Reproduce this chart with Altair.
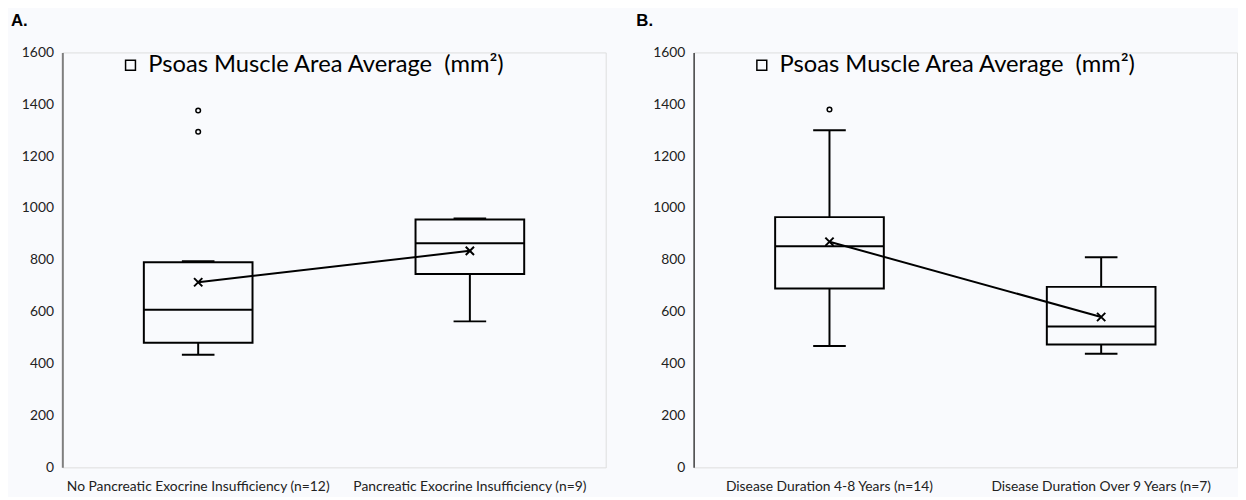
import altair as alt
import pandas as pd

SERIES = "Psoas Muscle Area Average\u00a0 (mm²)"
y_ticks = [0, 200, 400, 600, 800, 1000, 1200, 1400, 1600]

# Panel A
a_categories = ["No Pancreatic Exocrine Insufficiency (n=12)", "Pancreatic Exocrine Insufficiency (n=9)"]
a_lower = [434, 563]
a_q1 = [481, 746]
a_median = [608, 864]
a_q3 = [791, 956]
a_upper = [795, 960]
a_mean = [714, 835]
a_out_cat = ["No Pancreatic Exocrine Insufficiency (n=12)", "No Pancreatic Exocrine Insufficiency (n=12)"]
a_out_val = [1376, 1294]

# Panel B
b_categories = ["Disease Duration 4-8 Years (n=14)", "Disease Duration Over 9 Years (n=7)"]
b_lower = [468, 438]
b_q1 = [690, 474]
b_median = [853, 543]
b_q3 = [965, 696]
b_upper = [1300, 810]
b_mean = [870, 580]
b_out_cat = ["Disease Duration 4-8 Years (n=14)"]
b_out_val = [1380]


def panel(title, dx, cats, lower, q1, med, q3, upper, mean, out_cat, out_val, axis_color, axis_width):
    stats = pd.DataFrame({
        "cat": cats, "lower": lower, "q1": q1, "median": med,
        "q3": q3, "upper": upper, "mean": mean, "series": [SERIES] * len(cats),
    })
    outs = pd.DataFrame({"cat": out_cat, "value": out_val})

    x = alt.X("cat:N", sort=cats,
              scale=alt.Scale(type="band", paddingInner=0, paddingOuter=0),
              axis=alt.Axis(title=None, labelAngle=0, domain=False, ticks=False,
                            labelPadding=12, labelLimit=400, labelFontSize=14,
                            labelFont="Lato", labelColor="#222222"))
    yscale = alt.Scale(domain=[0, 1600], nice=False)
    yaxis = alt.Axis(title=None, values=y_ticks, format="d", grid=False, ticks=False,
                     domainColor=axis_color, domainWidth=axis_width,
                     labelPadding=9, labelFontSize=14, labelFont="Lato",
                     labelColor="#222222", minExtent=54, maxExtent=54)

    def Y(f):
        return alt.Y(f + ":Q", scale=yscale, axis=yaxis)

    base = alt.Chart(stats)
    whisk_lo = base.mark_rule(color="black", strokeWidth=2).encode(x=x, y=Y("lower"), y2="q1:Q")
    whisk_hi = base.mark_rule(color="black", strokeWidth=2).encode(x=x, y=Y("q3"), y2="upper:Q")
    cap_lo = base.mark_tick(color="black", thickness=2, size=33, opacity=1).encode(x=x, y=Y("lower"))
    cap_hi = base.mark_tick(color="black", thickness=2, size=33, opacity=1).encode(x=x, y=Y("upper"))
    box = base.mark_bar(fill="transparent", strokeWidth=2, width=110).encode(
        x=x, y=Y("q1"), y2="q3:Q",
        stroke=alt.Stroke("series:N", scale=alt.Scale(range=["black"]),
                          legend=alt.Legend(title=None, orient="none", legendX=57, legendY=1,
                                            symbolType="square", symbolSize=100,
                                            symbolStrokeWidth=1.5, symbolFillColor="white",
                                            labelFont="Lato", labelFontSize=24,
                                            labelColor="black", labelLimit=600, labelOffset=6)))
    median = base.mark_tick(color="black", thickness=2, size=110, opacity=1).encode(x=x, y=Y("median"))
    mean_line = base.mark_line(color="black", strokeWidth=2).encode(x=x, y=Y("mean"))
    mean_pts = base.mark_point(shape="M-1,-1L1,1M-1,1L1,-1", size=70, filled=False,
                               color="black", strokeWidth=2, opacity=1).encode(x=x, y=Y("mean"))
    outl = alt.Chart(outs).mark_point(shape="circle", size=22, filled=False, color="black",
                                      strokeWidth=1.5, opacity=1).encode(x=x, y=Y("value"))

    return alt.layer(whisk_lo, whisk_hi, cap_lo, cap_hi, box, median, mean_line, mean_pts, outl).properties(
        width=550, height=420,
        title=alt.TitleParams(title, anchor="start", frame="bounds", dx=dx, fontSize=17,
                              font="Liberation Sans", fontWeight="bold", color="black", offset=16),
    )


left = panel("A.", 2, a_categories, a_lower, a_q1, a_median, a_q3, a_upper, a_mean,
             a_out_cat, a_out_val, "#7f7f7f", 2)
right = panel("B.", -4, b_categories, b_lower, b_q1, b_median, b_q3, b_upper, b_mean,
              b_out_cat, b_out_val, "#404040", 1.5)

chart = (alt.hconcat(left, right, spacing=29, padding=0)
         .resolve_scale(stroke="independent")
         .resolve_legend(stroke="independent")
         .configure_view(stroke=None, fill="#f9fafd")
         .configure(background="#f9fafd"))

chart.save("out.html", embed_options={"renderer": "svg", "actions": False})
